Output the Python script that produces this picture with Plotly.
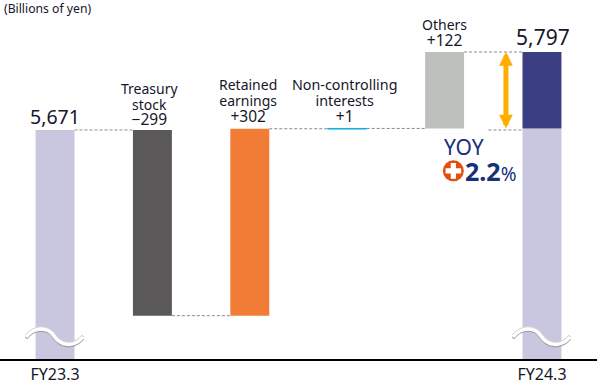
import plotly.graph_objects as go

# ---- data ----
steps = ["FY23.3", "Treasury stock", "Retained earnings", "Non-controlling interests", "Others", "FY24.3"]
starts = [5671, 5671, 5371, 5672.5, 5673.5]
ends = [5301, 5371, 5673, 5673.5, 5797]
final_base = 5673.5
final_total = 5797
bar_colors = ["#C9C7DF", "#5A5859", "#F07C36", "#14AEE5", "#BEC0BE"]
final_colors = ["#C9C7DF", "#3B3F82"]
tick_labels = ["FY23.3", "FY24.3"]
y_range = [5301, 5881]

FONT = "Noto Sans"
INK = "#16162a"
NAVY = "#17307A"
BW = 0.4

x = list(range(6))
fig = go.Figure()
for i in range(5):
    lo, hi = min(starts[i], ends[i]), max(starts[i], ends[i])
    fig.add_trace(go.Bar(x=[x[i]], y=[hi - lo], base=[lo], width=BW,
                         marker=dict(color=bar_colors[i], line=dict(color=bar_colors[i], width=1 if i == 3 else 0))))
fig.add_trace(go.Bar(x=[5], y=[final_base - y_range[0]], base=[y_range[0]], width=BW, marker=dict(color=final_colors[0], line_width=0)))
fig.add_trace(go.Bar(x=[5], y=[final_total - final_base], base=[final_base], width=BW, marker=dict(color=final_colors[1], line_width=0)))

# plus badge
fig.add_trace(go.Scatter(x=[4.09], y=[5605], mode="markers", cliponaxis=False,
                         marker=dict(symbol="circle", size=21, color="#E2500F")))
fig.add_trace(go.Scatter(x=[4.09], y=[5605], mode="markers", cliponaxis=False,
                         marker=dict(symbol="cross", size=13, color="white")))

shapes = []
def dash(x0, x1, yv):
    shapes.append(dict(type="line", xref="x", yref="y", x0=x0, x1=x1, y0=yv, y1=yv,
                       line=dict(color="#8a8a8a", width=1, dash="3px,2px"), layer="below"))
dash(0 + BW / 2, 1 - BW / 2, 5671)
dash(1 + BW / 2, 2 - BW / 2, 5371)
dash(2 + BW / 2, 3 - BW / 2, 5673)
dash(3 + BW / 2, 4 - BW / 2, 5673.5)
dash(4 + BW / 2, 5 - BW / 2, 5797)
dash(4.45, 4.8, 5671)

# axis-break waves on the two full bars
wave = "M -29,{a} C -20,{b} -7,{c} -1,{d} C 5,{e} 18,{f} 28,{a}"
def wave_path(o):
    return wave.format(a=22 + o, b=33 + o, c=32 + o, d=23 + o, e=14 + o, f=10 + o)
for xv in (0, 5):
    for off, col, w in ((-1.3, "#9c9c9c", 3), (1.3, "#d2d2d2", 3), (0, "#ffffff", 3.4)):
        shapes.append(dict(type="path", xref="x", yref="y", xsizemode="pixel", ysizemode="pixel",
                           xanchor=xv, yanchor=y_range[0], path=wave_path(off),
                           line=dict(color=col, width=w), layer="above"))

def note(xv, yv, text, size, color=INK, **kw):
    return dict(xref="x", yref="paper", x=xv, y=yv, text=text, showarrow=False,
                font=dict(family=FONT, size=size, color=color), xanchor="center", yanchor="middle", **kw)

H = 386.0 - 27
def py(p):
    return 1 - p / H

def sized(t, s):
    return f"<span style='font-size:{s}px'>{t}</span>"

anns = []
# the annotation font sets the tight line pitch; spans carry the glyph size
anns.append(note(0.97, py(104), "<br>".join([sized("Treasury", 14), sized("stock", 14), sized("\u2212299", 15.5)]), 12))
anns.append(note(1.98, py(100.5), "<br>".join([sized("Retained", 14), sized("earnings", 14), sized("+302", 15.5)]), 12.4))
anns.append(note(2.97, py(100.5), "<br>".join([sized("Non-controlling", 14.3), sized("interests", 14.3), sized("+1", 15.5)]), 12.4))
anns.append(note(4.0, py(33), "<br>".join([sized("Others", 14), sized("+122", 15.5)]), 12.4))
anns.append(note(0, py(116), "5,671", 19.5))
anns.append(note(5.01, py(37), "5,797", 21))
anns.append(note(4.2, py(147), "YOY", 21, NAVY))
anns.append(note(4.47, py(171), "<b>2.2</b><span style='font-size:19px'>%</span>", 25, NAVY))
anns.append(dict(xref="paper", yref="paper", x=2 / 597, y=py(9), text="(Billions of yen)", showarrow=False,
                 xanchor="left", yanchor="middle", font=dict(family=FONT, size=12.2, color=INK)))
# double arrow
anns.append(dict(xref="x", yref="y", axref="x", ayref="y", x=4.63, y=5797, ax=4.63, ay=5671, text="",
                 showarrow=True, arrowhead=2, arrowside="end+start", startarrowhead=2,
                 arrowsize=0.55, startarrowsize=0.55, arrowwidth=5, arrowcolor="#FFAE00"))

fig.update_layout(
    width=601, height=386, margin=dict(l=0, r=4, t=0, b=27), paper_bgcolor="white", plot_bgcolor="white",
    showlegend=False, barmode="overlay", shapes=shapes, annotations=anns,
    xaxis=dict(range=[-0.565, 5.565], tickmode="array", tickvals=[0, 5], ticktext=tick_labels,
               ticks="", showgrid=False, zeroline=False, showline=True, linecolor="black", linewidth=1.5,
               tickfont=dict(family=FONT, size=16, color=INK)),
    yaxis=dict(range=y_range, visible=False, showgrid=False, zeroline=False),
)
fig.write_html("out.html", config=dict(displayModeBar=False),
               post_script="document.body.style.margin='0';document.documentElement.style.overflow='hidden';")
